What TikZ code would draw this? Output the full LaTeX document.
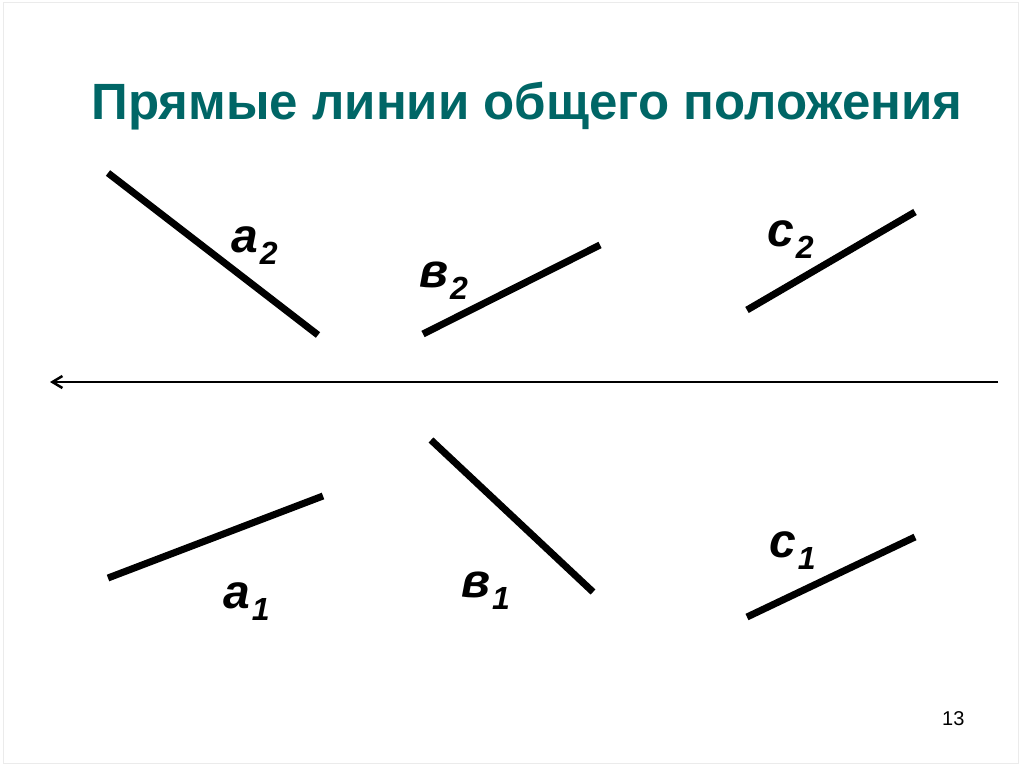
\documentclass[tikz,border=0pt]{standalone}
\usepackage{fontspec}
\setmainfont{Liberation Sans}
\usetikzlibrary{arrows.meta}
\definecolor{titleteal}{RGB}{0,102,102}
\definecolor{framegray}{RGB}{235,235,235}
\newcommand{\subidx}[1]{\hspace{2pt}\raisebox{-12pt}{\fontsize{32}{32}\selectfont #1}}

\begin{document}
\begin{tikzpicture}[x=1pt,y=-1pt,
    seg/.style={line width=7pt},
    lbl/.style={anchor=base west,inner sep=0pt,font=\fontsize{48}{48}\selectfont\bfseries\itshape}]

        \useasboundingbox (0,0) rectangle (1024,767);
        \draw[framegray, line width=1pt] (3,3) rectangle (1018,763);

        % Title
        \node[anchor=base,inner sep=0pt,text=titleteal,font=\fontsize{51}{51}\selectfont\bfseries] (title) at (527,120) {Прямые линии общего положения};

        % Axis
        \coordinate (xr) at (998,382);
        \coordinate (xl) at (50,382);
        \draw[line width=2.5pt,-{Straight Barb[length=10pt,width=12pt]}] (xr) -- (xl);

        % Lines
        \foreach \n/\xa/\ya/\xb/\yb in {a2/108/173/318/335, b2/423/334/600/245, c2/747/310/915/212,
                                      a1/108/578/323/496, b1/431/440/593/592, c1/747/617/915/537}
        {
          \coordinate (\n s) at (\xa,\ya);
          \coordinate (\n e) at (\xb,\yb);
          \draw[seg] (\n s) -- (\n e);
        }

        % Labels
        \node[lbl] (la2) at (231,252) {a\subidx{2}};
        \node[lbl] (lb2) at (419,287) {в\subidx{2}};
        \node[lbl] (lc2) at (767,247) {c\subidx{2}};
        \node[lbl] (la1) at (223,608) {a\subidx{1}};
        \node[lbl] (lb1) at (461,597) {в\subidx{1}};
        \node[lbl] (lc1) at (769,557) {c\subidx{1}};

        % Page number
        \node[anchor=base west,inner sep=0pt,font=\fontsize{20}{20}\selectfont] (page) at (942,725) {13};
    \end{tikzpicture}
\end{document}
